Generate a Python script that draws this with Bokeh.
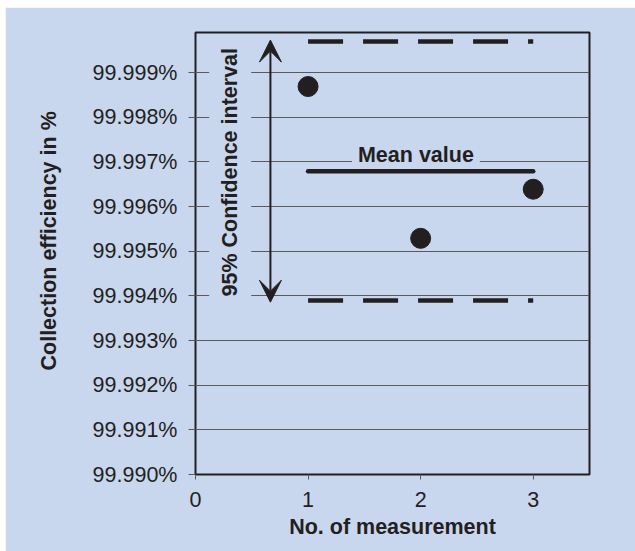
from bokeh.plotting import figure
from bokeh.models import (Range1d, FixedTicker, PrintfTickFormatter, Label, Arrow,
                          VeeHead, Spacer, Title)
from bokeh.layouts import column, row
from bokeh.embed import file_html
from bokeh.resources import INLINE
import math

# ---- data ----
measurement_no = [1, 2, 3]
efficiency = [99.99869, 99.99529, 99.99639]
mean_value = sum(efficiency) / len(efficiency)
ci_upper = 99.99970
ci_lower = 99.99390
y_ticks = [99.990, 99.991, 99.992, 99.993, 99.994, 99.995, 99.996, 99.997, 99.998, 99.999]
x_ticks = [0, 1, 2, 3]

BG = "#c8d6ee"
INK = "#231f20"
FONT = "Liberation Sans"

p = figure(width=630, height=544, output_backend="svg", toolbar_location=None,
           x_range=Range1d(0, 3.5), y_range=Range1d(99.99, 99.9999),
           min_border_left=189, min_border_right=46, min_border_top=25, min_border_bottom=77)
p.background_fill_color = BG
p.border_fill_color = BG
p.outline_line_color = INK
p.outline_line_width = 2

# grid
p.xgrid.visible = False
p.ygrid.ticker = FixedTicker(ticks=y_ticks)
p.ygrid.grid_line_color = "#5a5a5a"
p.ygrid.grid_line_width = 1

# axes
p.yaxis.ticker = FixedTicker(ticks=y_ticks)
p.yaxis.formatter = PrintfTickFormatter(format="%.3f%%")
p.xaxis.ticker = FixedTicker(ticks=x_ticks)
for ax in (p.xaxis[0], p.yaxis[0]):
    ax.axis_line_color = None
    ax.major_tick_line_color = "#5a5a5a"
    ax.major_tick_in = 0
    ax.minor_tick_line_color = None
    ax.major_label_text_font = FONT
    ax.major_label_text_font_size = "21.5px"
    ax.major_label_text_color = INK
    ax.axis_label_text_font = FONT
    ax.axis_label_text_font_size = "21.5px"
    ax.axis_label_text_font_style = "bold"
    ax.axis_label_text_color = INK
p.yaxis.major_tick_out = 7
p.yaxis.major_label_standoff = 11
p.xaxis.major_tick_out = 5
p.xaxis.major_label_standoff = 12
p.xaxis.axis_label = "No. of measurement"
p.xaxis.axis_label_standoff = 5

# y axis title as a side title (allows shifting along the axis)
p.add_layout(Title(text="Collection efficiency in %", align="left", offset=104, standoff=58,
                   text_font=FONT, text_font_size="21.5px", text_font_style="bold",
                   text_color=INK), "left")

# confidence interval dashed lines
p.line([measurement_no[0], measurement_no[-1]], [ci_upper, ci_upper], line_color=INK,
       line_width=4.5, line_dash="35 20")
p.line([measurement_no[0], measurement_no[-1]], [ci_lower, ci_lower], line_color=INK,
       line_width=4.5, line_dash="35 20")

# mean line
p.line([measurement_no[0], measurement_no[-1]], [mean_value, mean_value], line_color=INK,
       line_width=4.5, line_cap="round")

# points
p.scatter(measurement_no, efficiency, size=20, fill_color=INK, line_color=INK)

# labels
p.add_layout(Label(x=1.958, y=99.99716, text="Mean value", text_font=FONT,
                   text_font_size="21.5px", text_font_style="bold", text_color=INK,
                   text_align="center", text_baseline="middle",
                   background_fill_color=BG,
                   padding=dict(left=6, right=6, top=0, bottom=0)))
p.add_layout(Label(x=0.308, y=99.99677, text="95% Confidence interval", angle=math.pi / 2,
                   text_font=FONT, text_font_size="21.5px", text_font_style="bold",
                   text_color=INK, text_align="center", text_baseline="middle",
                   background_fill_color=BG, padding=9))

# arrow
p.add_layout(Arrow(x_start=0.6655, y_start=99.99386, x_end=0.6655, y_end=99.99973,
                   line_color=INK, line_width=2,
                   start=VeeHead(size=22, fill_color=INK, line_color=INK),
                   end=VeeHead(size=22, fill_color=INK, line_color=INK)))

layout = column(Spacer(height=7), row(Spacer(width=5), p))
open("out.html", "w").write(file_html(layout, INLINE))
